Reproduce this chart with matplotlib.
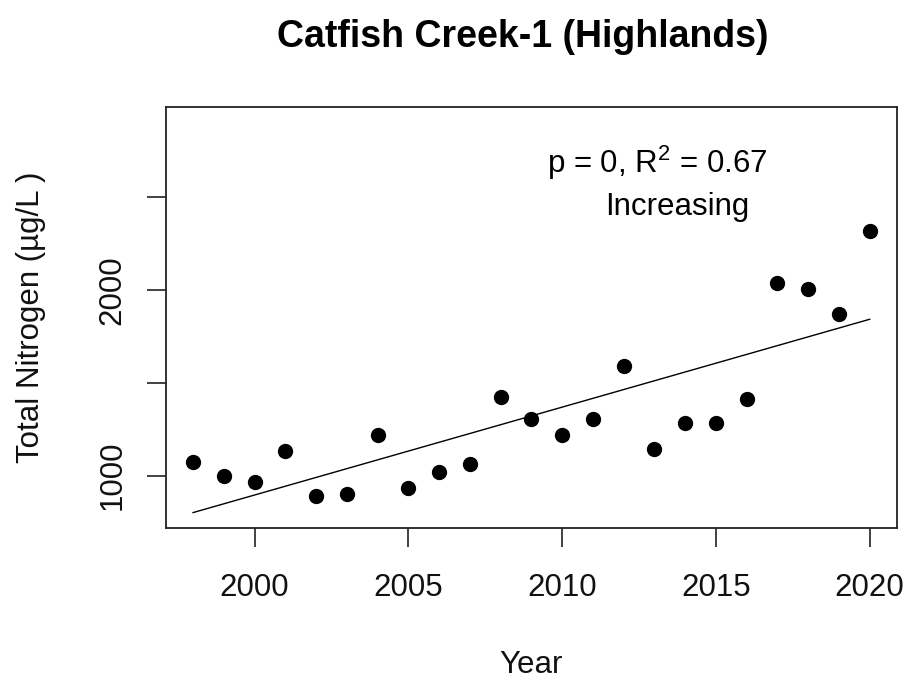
import matplotlib
matplotlib.use('Agg')
import matplotlib.pyplot as plt

plt.rcParams['font.family'] = ['Liberation Sans', 'DejaVu Sans']
plt.rcParams['mathtext.fontset'] = 'custom'
plt.rcParams['mathtext.rm'] = 'Liberation Sans'

years = [1998, 1999, 2000, 2001, 2002, 2003, 2004, 2005, 2006, 2007, 2008,
         2009, 2010, 2011, 2012, 2013, 2014, 2015, 2016, 2017, 2018, 2019, 2020]
total_n = [1075, 1000, 968, 1130, 892, 900, 1219, 935, 1021, 1065, 1425,
           1305, 1218, 1305, 1591, 1142, 1285, 1285, 1414, 2037, 2004, 1873, 2320]
# fitted trend line end points
trend_years = [1998, 2020]
trend_vals = [801, 1842]

title = 'Catfish Creek-1 (Highlands)'
stat_text = 'p = 0, R$^{\\mathregular{2}}$ = 0.67'
trend_text = 'Increasing'

xticks = [2000, 2005, 2010, 2015, 2020]
yticks = [1000, 1500, 2000, 2500]
ytick_labels = ['1000', '', '2000', '']

fs = 22.5
fig = plt.figure(figsize=(9.09, 6.82), dpi=100)
ax = fig.add_axes([0.1826, 0.2258, 0.8039, 0.6173])

ax.plot(trend_years, trend_vals, color='k', lw=1.0)
ax.plot(years, total_n, 'o', color='k', ms=10, mec='k')

ax.set_xlim(1997.12, 2020.88)
ax.set_ylim(718, 2985)
ax.set_xticks(xticks)
ax.set_xticklabels([str(x) for x in xticks])
ax.set_yticks(yticks)
ax.set_yticklabels(ytick_labels, rotation=90, va='center')

for s in ax.spines.values():
    s.set_linewidth(1.3)
    s.set_color('#222222')
ax.tick_params(axis='both', direction='out', length=13.7, width=1.3,
               color='#333333', labelsize=fs, labelcolor='#111111')
ax.tick_params(axis='x', pad=18.5)
ax.tick_params(axis='y', pad=14)

ax.set_xlabel('Year', fontsize=fs, labelpad=34, color='#111111')
ax.set_ylabel('Total Nitrogen (µg/L )', fontsize=fs, labelpad=37, color='#111111')

ax.text(2013.1, 2630, stat_text, fontsize=fs, ha='center', va='baseline')
ax.text(2013.75, 2404, trend_text, fontsize=fs, ha='center', va='baseline')

fig.text(523 / 909, 1 - 46.7 / 682, title, fontsize=27, fontweight='bold',
         ha='center', va='baseline')

fig.savefig('out.png', dpi=100)
